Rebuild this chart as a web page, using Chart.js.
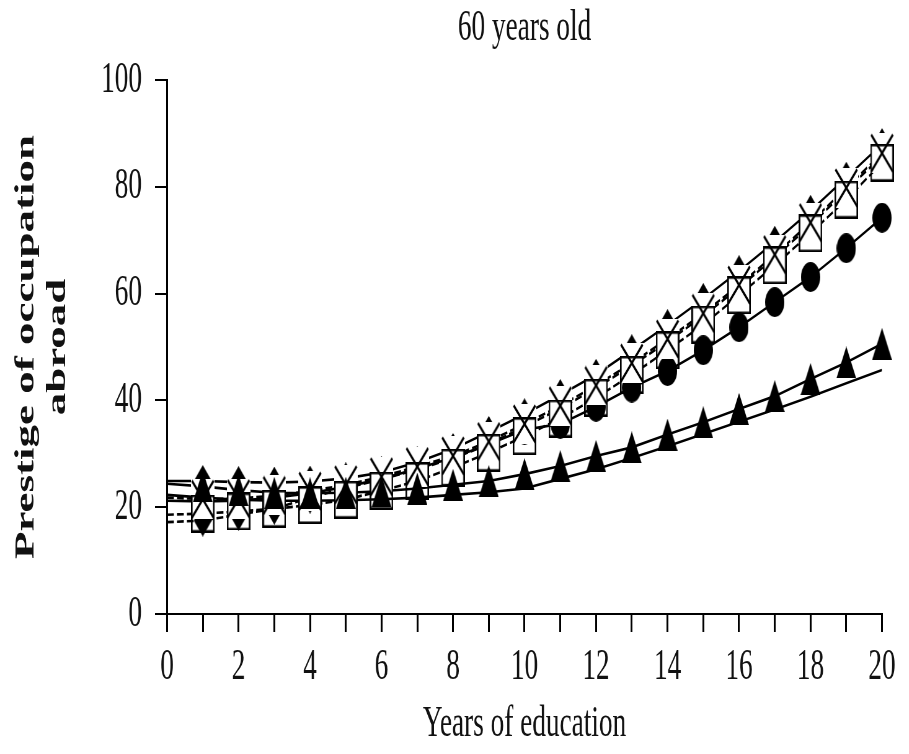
<!DOCTYPE html>
<html>
<head>
<meta charset="utf-8">
<title>60 years old</title>
<script src="https://cdn.jsdelivr.net/npm/chart.js@4.4.1/dist/chart.umd.min.js"></script>
<style>
  html, body { margin: 0; padding: 0; background: #fff; overflow: hidden; }
  /* the chart is laid out wide and narrowed horizontally, giving the tall, condensed look of the figure */
  #wrap { width: 1466px; height: 754px; transform: scaleX(0.62); transform-origin: 0 0; }
</style>
</head>
<body>
<div id="wrap"><canvas id="chart" width="1466" height="754"></canvas></div>
<script>
// Years of education (x) and predicted prestige of the occupation abroad (y)
const years = [0, 1, 2, 3, 4, 5, 6, 7, 8, 9, 10, 11, 12, 13, 14, 15, 16, 17, 18, 19, 20];

const diamondHigh = [24.9, 24.9, 24.7, 24.6, 24.8, 25.4, 26.5, 28.4, 30.9, 34.1, 37.4, 41.0, 44.8, 49.4, 54.1, 59.0, 64.2, 69.7, 75.5, 81.7, 88.0];
const crossSeries = [21.8, 21.5, 21.6, 22.2, 23.0, 24.2, 25.7, 27.6, 29.6, 32.3, 35.6, 39.0, 42.8, 47.0, 51.5, 56.3, 61.6, 67.3, 73.3, 79.8, 86.3];
const squareSeries = [18.6, 18.8, 19.2, 19.7, 20.4, 21.4, 23.1, 24.9, 27.4, 30.2, 33.3, 36.6, 40.5, 44.8, 49.4, 54.2, 59.7, 65.3, 71.3, 77.6, 84.5];
const circleSeries = [21.2, 21.1, 21.2, 21.8, 22.6, 23.8, 25.3, 27.2, 29.3, 31.8, 34.5, 35.6, 38.8, 42.4, 45.5, 49.4, 53.7, 58.4, 63.1, 68.5, 74.2];
const triangleSeries = [24.4, 23.9, 23.2, 22.7, 22.6, 22.7, 23.0, 23.5, 24.2, 24.9, 26.2, 27.7, 29.6, 31.2, 33.6, 35.9, 38.4, 40.8, 44.0, 47.1, 50.6];
const plainSeries = [22.3, 21.8, 21.4, 21.2, 21.2, 21.3, 21.5, 21.8, 22.3, 22.8, 23.5, 25.3, 27.1, 29.2, 31.4, 33.7, 36.0, 38.3, 40.7, 43.2, 45.7];
const diamondLow = [17.2, 17.5, 18.6, 19.7, 21.8, 23.6, 25.2, 27.1, 29.1, 31.8, 35.1, 38.5, 42.3, 46.5, 51.0, 55.8, 61.1, 66.8, 72.8, 79.3, 85.8];

const yTicks = [0, 20, 40, 60, 80, 100];

const SERIF = "'Liberation Serif', 'DejaVu Serif', serif";
const INK = '#111';

// marker glyphs
function glyph(w, h, paint) {
  const c = document.createElement('canvas');
  c.width = w; c.height = h;
  paint(c.getContext('2d'), w, h);
  return c;
}
const squareGlyph = glyph(38, 38, (g, w, h) => {
  g.strokeStyle = '#000'; g.lineWidth = 2.6;
  g.strokeRect(1.3, 1.3, w - 2.6, h - 2.6);
});
const crossGlyph = glyph(38, 40, (g, w, h) => {
  g.fillStyle = '#fff'; g.fillRect(0, 0, w, h);
  g.strokeStyle = '#000'; g.lineWidth = 3; g.lineCap = 'butt';
  g.beginPath();
  g.moveTo(1.5, 1.5); g.lineTo(w - 1.5, h - 1.5);
  g.moveTo(w - 1.5, 1.5); g.lineTo(1.5, h - 1.5);
  g.stroke();
});
const triangleGlyph = glyph(32, 32, (g, w, h) => {
  g.fillStyle = '#000';
  g.beginPath(); g.moveTo(w / 2, 0); g.lineTo(w, h); g.lineTo(0, h); g.closePath(); g.fill();
});
const circleGlyph = glyph(31, 30, (g, w, h) => {
  g.fillStyle = '#000';
  g.beginPath(); g.ellipse(w / 2, h / 2, w / 2, h / 2, 0, 0, Math.PI * 2); g.fill();
});
const diamondGlyph = glyph(29, 32, (g, w, h) => {
  g.fillStyle = '#000';
  g.beginPath(); g.moveTo(w / 2, 0); g.lineTo(w, h / 2); g.lineTo(w / 2, h); g.lineTo(0, h / 2); g.closePath(); g.fill();
});

const pts = arr => arr.map((v, i) => ({ x: years[i], y: v }));

function lineSet(arr, dashed) {
  return {
    data: pts(arr), borderColor: '#000', borderWidth: 2.6,
    borderDash: dashed ? [11, 5] : [], pointRadius: 0, tension: 0, order: 10
  };
}
function markerSet(arr, style, order) {
  return {
    data: pts(arr).slice(1), showLine: false, pointStyle: style,
    pointRadius: 10, pointBorderWidth: 0, clip: false, order: order
  };
}

new Chart(document.getElementById('chart'), {
  type: 'line',
  data: {
    datasets: [
      lineSet(plainSeries, false),
      lineSet(diamondLow, true),
      lineSet(diamondHigh, false),
      lineSet(circleSeries, false),
      lineSet(crossSeries, true),
      lineSet(squareSeries, true),
      lineSet(triangleSeries, false),
      markerSet(diamondLow, diamondGlyph, 7),
      markerSet(diamondHigh, diamondGlyph, 6),
      markerSet(circleSeries, circleGlyph, 5),
      markerSet(crossSeries, crossGlyph, 4),
      markerSet(triangleSeries, triangleGlyph, 3),
      markerSet(squareSeries, squareGlyph, 2)
    ]
  },
  options: {
    responsive: false,
    animation: false,
    devicePixelRatio: 1,
    events: [],
    layout: { padding: { left: 0, right: 43.4, top: 0, bottom: 0 } },
    plugins: {
      legend: { display: false },
      tooltip: { enabled: false },
      title: {
        display: true,
        text: '60 years old',
        fullSize: false,
        color: INK,
        font: { family: SERIF, size: 44, weight: 'normal', lineHeight: 1.2 },
        padding: { top: 2, bottom: 25.2 }
      }
    },
    scales: {
      x: {
        type: 'linear',
        min: 0, max: 20,
        ticks: {
          stepSize: 1, autoSkip: false, maxRotation: 0,
          callback: v => (v % 2 === 0 ? String(v) : ''),
          color: INK, font: { family: SERIF, size: 44 }, padding: 9
        },
        grid: { display: true, drawOnChartArea: false, drawTicks: true, tickLength: 18, color: '#000', lineWidth: 3 },
        border: { display: true, color: '#000', width: 2 },
        title: {
          display: true, text: 'Years of education', color: INK,
          font: { family: SERIF, size: 44, lineHeight: 1.2 },
          padding: { top: 0, bottom: 3.5 }
        },
        afterFit(s) { s.height = 140; s.paddingLeft = 0; s.paddingRight = 0; }
      },
      y: {
        min: 0, max: 100,
        afterBuildTicks(s) { s.ticks = yTicks.map(v => ({ value: v })); },
        ticks: { color: INK, font: { family: SERIF, size: 44 }, padding: 21 },
        grid: { display: true, drawOnChartArea: false, drawTicks: true, tickLength: 19.4, color: '#000', lineWidth: 2 },
        border: { display: true, color: '#000', width: 3 },
        title: {
          display: true, text: ['Prestige of occupation', 'abroad'], color: INK,
          font: { family: SERIF, size: 45, weight: 'bold', lineHeight: 1.15 },
          padding: { top: 16, bottom: 0 }
        },
        afterFit(s) { s.width = 269.4; s.paddingTop = 0; s.paddingBottom = 0; }
      }
    }
  }
});
</script>
</body>
</html>
